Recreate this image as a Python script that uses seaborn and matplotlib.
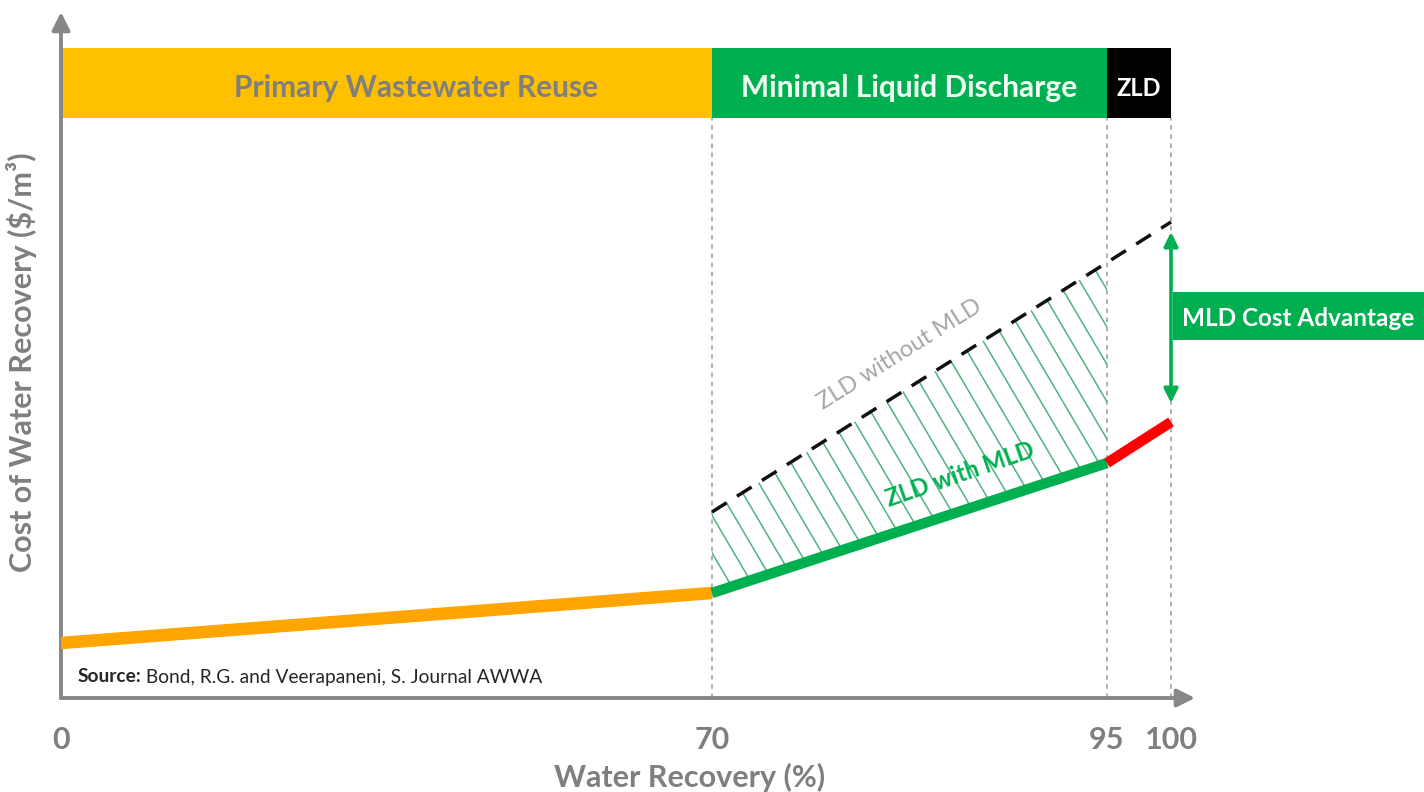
import numpy as np
import pandas as pd
import matplotlib
matplotlib.use("Agg")
import matplotlib.pyplot as plt
import matplotlib.transforms as mtransforms
from matplotlib.patches import Rectangle, Polygon
from matplotlib.collections import LineCollection
import seaborn as sns

# ---- data -------------------------------------------------------------
primary_x = [0, 70]
primary_cost = [5.5, 10.5]

mld_x = [70, 95]
mld_cost = [10.5, 23.5]

zld_x = [95, 100]
zld_cost = [23.5, 27.6]

no_mld_x = [70, 95, 100]
no_mld_cost = [18.6, 43.55, 47.6]

stage_names = ["Primary Wastewater Reuse", "Minimal Liquid Discharge", "ZLD"]
stage_start = [0, 70, 95]
stage_end = [70, 95, 100]

tick_values = [0, 70, 95, 100]
tick_labels = ["0", "70", "95", "100"]

# piecewise-linear recovery axis (wider spacing for the high-recovery end)
scale_knots = [-100, 0, 70, 95, 100, 200]
scale_offsets = [-930, 0, 651, 1046, 1110, 2390]

# ---- style ------------------------------------------------------------
sns.set_theme(style="white")
plt.rcParams["font.family"] = ["Lato", "DejaVu Sans"]

ORANGE_BAND = "#FFC000"
ORANGE_LINE = "#FFA500"
GREEN = "#00B050"
HATCH_GREEN = "#4DB47E"
RED = "#FF0000"
GREY_TEXT = "#7F7F7F"
AXIS_GREY = "#878787"

W_PX, H_PX = 1134, 686
fig = plt.figure(figsize=(14.24, 7.92), dpi=100)
ax = fig.add_axes([61 / 1424, 94 / 792, W_PX / 1424, H_PX / 792])

xk = np.array(scale_knots, dtype=float)
pk = np.array(scale_offsets, dtype=float)


def fwd(x):
    return np.interp(x, xk, pk)


def inv(p):
    return np.interp(p, pk, xk)


ax.set_xscale("function", functions=(fwd, inv))
ax.set_xlim(0, 101.875)
ax.set_ylim(0, 68.6)

for s in ax.spines.values():
    s.set_visible(False)

# ---- stage bands --------------------------------------------------------
band_lo, band_hi = 58.0, 65.0
band_colors = [ORANGE_BAND, GREEN, "#000000"]
for x0, x1, c in zip(stage_start, stage_end, band_colors):
    ax.add_patch(Rectangle((x0, band_lo), x1 - x0, band_hi - band_lo,
                           facecolor=c, edgecolor="none", zorder=2))
ax.text(38.2, 61.0, stage_names[0], ha="center", va="center", fontsize=21.5,
        fontweight="bold", color=GREY_TEXT, zorder=3)
ax.text(82.5, 61.0, stage_names[1], ha="center", va="center", fontsize=21.5,
        fontweight="bold", color="#F2FFF4", zorder=3)
ax.text(97.5, 61.0, stage_names[2], ha="center", va="center", fontsize=17,
        fontweight="bold", color="white", zorder=3)

# ---- vertical boundaries ----------------------------------------------
for xv in [70, 95, 100]:
    ax.plot([xv, xv], [0, band_lo], color="#9A9A9A", lw=1.1,
            dashes=(3, 3), zorder=1)

# ---- hatched region between the two ZLD paths --------------------------
verts = [(mld_x[0], no_mld_cost[0]), (mld_x[1], no_mld_cost[1]),
         (mld_x[1], mld_cost[1]), (mld_x[0], mld_cost[0])]
clip_poly = Polygon(verts, closed=True, facecolor="none", edgecolor="none",
                    transform=ax.transData)
ax.add_patch(clip_poly)

px_trans = mtransforms.Affine2D().scale(1 / W_PX, 1 / H_PX) + ax.transAxes
ref_x, ref_y = 1034.0, 428.5
step = 22.0
slope = 33.0 / 56.0
segs = []
for k in range(-40, 8):
    x0 = ref_x + k * step
    segs.append([(x0 - (0 - ref_y) * slope, 0),
                 (x0 - (H_PX - ref_y) * slope, H_PX)])
hatch = LineCollection(segs, colors=HATCH_GREEN, linewidths=1.1,
                       transform=px_trans, zorder=2)
hatch.set_clip_path(clip_poly)
ax.add_collection(hatch)

# ---- cost curves -------------------------------------------------------
sns.lineplot(x=primary_x, y=primary_cost, ax=ax, color=ORANGE_LINE, lw=9,
             solid_capstyle="butt", zorder=4)
sns.lineplot(x=mld_x, y=mld_cost, ax=ax, color=GREEN, lw=7.5,
             solid_capstyle="butt", zorder=4)
sns.lineplot(x=zld_x, y=zld_cost, ax=ax, color=RED, lw=7.5,
             solid_capstyle="butt", zorder=4)
sns.lineplot(x=no_mld_x, y=no_mld_cost, ax=ax, color="#111111", lw=2.5,
             dashes=False, zorder=4).lines[-1].set_dashes((5, 3.5))

ax.text(81.9, 34.4, "ZLD without MLD", rotation=32, ha="center", va="center",
        fontsize=17, color="#A6A6A6", zorder=5)
ax.text(85.7, 22.3, "ZLD with MLD", rotation=19, ha="center", va="center",
        fontsize=17, fontweight="bold", color=GREEN, zorder=5)

# ---- cost advantage marker --------------------------------------------
ax.annotate("", xy=(100, no_mld_cost[-1] - 1.0), xytext=(100, zld_cost[-1] + 1.9),
            arrowprops=dict(arrowstyle="<|-|>,head_length=0.7,head_width=0.35",
                            color=GREEN, lw=2.6, shrinkA=0, shrinkB=0),
            zorder=5)
fig.patches.append(Rectangle((1173 / 1424, (792 - 340) / 792), 251 / 1424, 48 / 792,
                             facecolor=GREEN, edgecolor="none",
                             transform=fig.transFigure, figure=fig))
fig.text(1298 / 1424, (792 - 318) / 792, "MLD Cost Advantage", ha="center",
         va="center", fontsize=17.5, fontweight="bold", color="white")

# ---- axes with arrow heads ---------------------------------------------
arrow_kw = dict(arrowstyle="-|>,head_length=0.9,head_width=0.45",
                color=AXIS_GREY, lw=2.8, shrinkA=0, shrinkB=0)
ax.annotate("", xy=(0, 1), xytext=(0, 0), xycoords="axes fraction",
            arrowprops=arrow_kw)
ax.annotate("", xy=(1, 0), xytext=(0, 0), xycoords="axes fraction",
            arrowprops=arrow_kw)

ax.set_xticks(tick_values)
ax.set_xticklabels(tick_labels, fontsize=22, fontweight="bold", color=GREY_TEXT)
ax.tick_params(axis="x", length=0, pad=20)
ax.set_yticks([])
ax.minorticks_off()

ax.set_xlabel("Water Recovery (%)", fontsize=22, fontweight="bold", color=GREY_TEXT)
ax.xaxis.set_label_coords((690 - 61) / W_PX, -0.095)
ax.set_ylabel("Cost of Water Recovery (\\$/m³)", fontsize=22, fontweight="bold",
              color=GREY_TEXT)
ax.yaxis.set_label_coords(-0.021, (698 - 362) / H_PX)

# ---- source note -------------------------------------------------------
src = ax.text(1.8, 2.1, "Source:", fontsize=13.8, fontweight="bold",
              color="#262626", va="center", ha="left", zorder=5)
ax.annotate(" Bond, R.G. and Veerapaneni, S. Journal AWWA", xy=(1, 0.5),
            xycoords=src, va="center", ha="left", fontsize=13.8,
            color="#262626")

fig.savefig("out.png", dpi=100)
